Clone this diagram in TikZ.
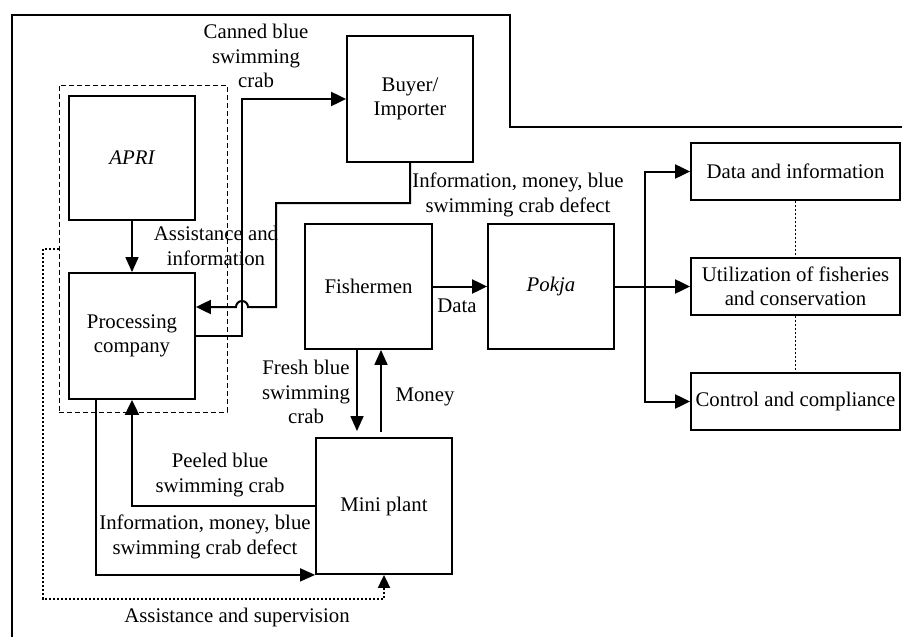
\documentclass[tikz,border=0pt]{standalone}
\usepackage{fontspec}
\setmainfont{Liberation Serif}
\usetikzlibrary{arrows.meta,calc}
\begin{document}
\begin{tikzpicture}[x=1pt,y=-1pt,
  font=\fontsize{20.8}{24.5}\selectfont,
  box/.style 2 args={draw, line width=1.8pt, minimum width=#1, minimum height=#2,
    inner sep=0pt, align=center},
  grpbox/.style={draw, line width=0.9pt, dash pattern=on 5pt off 3pt},
  frame/.style={line width=1.8pt},
  arr/.style={line width=2pt, -{Triangle[length=15pt,width=14pt]}},
  thinarr/.style={line width=1.6pt, -{Triangle[length=15pt,width=13pt]}},
  link/.style={line width=2pt},
  dotarr/.style={line width=1.8pt, dash pattern=on 2pt off 2pt,
    -{Triangle[length=13pt,width=12pt]}},
  dotlink/.style={line width=1.4pt, dash pattern=on 2pt off 2pt},
  lbl/.style={align=center, inner sep=0pt}]
\useasboundingbox (0,0) rectangle (902,637);

% outer frame
\draw[frame] (902,127) -- (510,127) -- (510,15) -- (12,15) -- (12,637);

% association group
\node[grpbox, minimum width=168pt, minimum height=327pt, inner sep=0pt] (grp) at (143,248.5) {};

% actors
\node[box={126pt}{124pt}] (apri)  at (132,158)   {\itshape APRI};
\node[box={126pt}{126pt}] (proc)  at (132,336)   {Processing\\company};
\node[box={126pt}{126pt}] (buyer) at (410,99)    {Buyer/\\Importer};
\node[box={127pt}{125pt}] (fish)  at (368.5,286.5) {Fishermen};
\node[box={126pt}{125pt}] (pokja) at (551,286.5) {\itshape Pokja};
\node[box={136pt}{136pt}] (mini)  at (384,506)   {Mini plant};

% outputs of the working group
\node[box={209pt}{57pt}] (data) at (795.5,171.5) {Data and information};
\node[box={209pt}{57pt}] (util) at (795.5,286.5) {Utilization of fisheries\\and conservation};
\node[box={209pt}{57pt}] (ctrl) at (795.5,401.5) {Control and compliance};

% helper points
\coordinate (hump) at (242,307);
\coordinate (fan)  at (645,286.5);

% APRI -> processing company
\draw[thinarr] (apri) -- (proc);
\node[lbl] at (216,246) {Assistance and\\information};

% processing company -> buyer
\draw[arr] (proc.east) -- (242,336) |- (buyer.west);
\node[lbl] at (256,56) {Canned blue\\swimming\\crab};

% buyer -> processing company, hopping over the export line
\draw[arr] (buyer.south) |- (276,203) -- (276,307) -- ($(hump)+(6,0)$)
  arc (0:-180:6) -- (proc.east |- hump);
\node[lbl] at (518,195) {Information, money, blue\\swimming crab defect};

% fishermen -> Pokja
\draw[arr] (fish) -- (pokja);
\node[lbl] at (457,306) {Data};

% Pokja -> outputs
\draw[link] (pokja.east) -- (fan);
\draw[arr] (fan) |- (data.west);
\draw[arr] (fan) -- (util.west);
\draw[arr] (fan) |- (ctrl.west);
\draw[dotlink] (data) -- (util);
\draw[dotlink] (util) -- (ctrl);

% fishermen <-> mini plant
\draw[thinarr] (fish.south -| 357,0) -- ($(mini.north -| 357,0)+(0,-6)$);
\draw[thinarr] ($(mini.north -| 381,0)+(0,-5)$) -- (fish.south -| 381,0);
\node[lbl] at (306,392) {Fresh blue\\swimming\\crab};
\node[lbl] at (425,397) {Money};

% mini plant -> processing company
\draw[arr] (mini.west) -| (proc.south);
\node[lbl] at (220,475) {Peeled blue\\swimming crab};

% processing company -> mini plant
\draw[thinarr] (proc.south -| 96,0) |- (mini.south west);
\node[lbl] at (205,537) {Information, money, blue\\swimming crab defect};

% association -> mini plant
\draw[dotarr] (grp.west |- 0,249) -- (43,249) -- (43,599) -| (mini.south);
\node[lbl] at (237,617) {Assistance and supervision};
\end{tikzpicture}
\end{document}
